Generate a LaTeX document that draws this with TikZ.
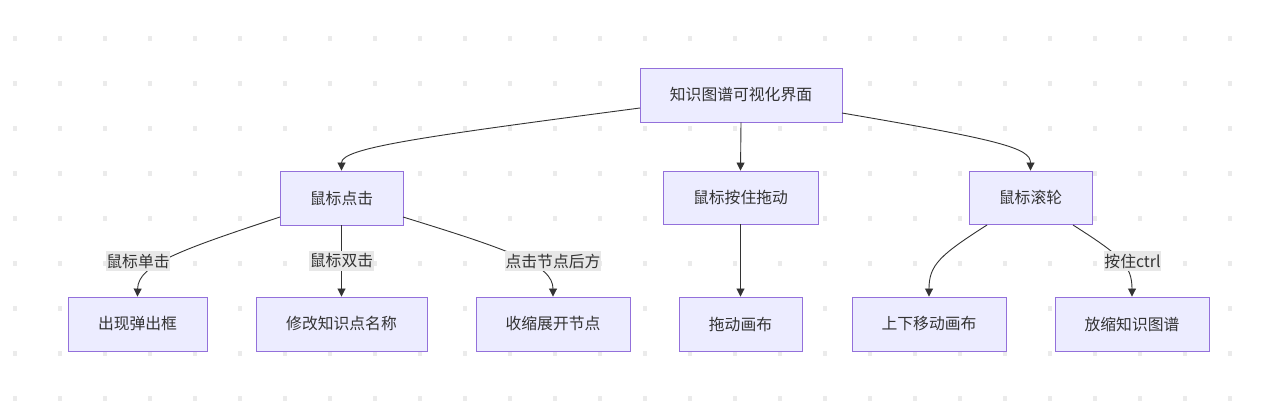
\documentclass[tikz,border=0pt]{standalone}
\usepackage{fontspec}
\setmainfont{Noto Sans CJK SC}
\usetikzlibrary{arrows.meta}
\definecolor{nodefill}{HTML}{ECECFF}
\definecolor{nodeline}{HTML}{9370DB}
\definecolor{edgecol}{HTML}{333333}
\definecolor{lblbg}{HTML}{E8E8E8}
\definecolor{dotcol}{HTML}{EBEBEB}
\tikzset{
  box/.style={draw=nodeline, fill=nodefill, line width=0.9pt, inner sep=0pt, text=edgecol, font=\fontsize{15.8}{18}\selectfont},
  lbl/.style={fill=lblbg, inner xsep=0.5pt, inner ysep=2.5pt, text=edgecol, font=\fontsize{15.8}{18}\selectfont},
  edge/.style={draw=edgecol, line width=0.9pt, -{Triangle[length=8pt,width=8pt]}},
}
\begin{document}
\begin{tikzpicture}[x=1pt,y=-1pt]
\useasboundingbox (0,0) rectangle (1267,406);
\fill[white] (0,0) rectangle (1267,406);
% dot grid
\foreach \i in {0,...,27} {
  \foreach \j in {0,...,8} {
    \fill[dotcol] ({15+45*\i-2.2},{38.5+45*\j-2.2}) rectangle ++(4.4,4.4);
  }
}
% nodes
\node[box, minimum width=202pt, minimum height=54pt] (root) at (741,95) {知识图谱可视化界面};
\node[box, minimum width=123pt, minimum height=54pt] (click) at (341.5,198) {鼠标点击};
\node[box, minimum width=155pt, minimum height=53pt] (drag) at (740.5,197.5) {鼠标按住拖动};
\node[box, minimum width=123pt, minimum height=53pt] (wheel) at (1030.5,197.5) {鼠标滚轮};
\node[box, minimum width=139pt, minimum height=54pt] (popup) at (137.5,324) {出现弹出框};
\node[box, minimum width=171pt, minimum height=54pt] (rename) at (341.5,324) {修改知识点名称};
\node[box, minimum width=154pt, minimum height=54pt] (fold) at (553,324) {收缩展开节点};
\node[box, minimum width=123pt, minimum height=54pt] (canvas) at (740.5,324) {拖动画布};
\node[box, minimum width=154pt, minimum height=54pt] (updown) at (929,324) {上下移动画布};
\node[box, minimum width=154pt, minimum height=54pt] (zoom) at (1132,324) {放缩知识图谱};
% anchor coordinates
\coordinate (rL) at (640,108);
\coordinate (rR) at (842,113);
\coordinate (cL) at (280,217);
\coordinate (cR) at (403,217);
\coordinate (wL) at (987,225);
\coordinate (wR) at (1073,225);
% edges
\draw[edge] (rL) .. controls (420,137) and (341.5,148) .. (click.north);
\draw[edge] (root.south) -- (drag.north);
\draw[edge] (rR) .. controls (1000,140) and (1030.5,148) .. (wheel.north);
\draw[edge] (cL) .. controls (180,250) and (138,265) .. (popup.north);
\draw[edge] (click.south) -- (rename.north);
\draw[edge] (cR) .. controls (510,250) and (553,265) .. (fold.north);
\draw[edge] (drag.south) -- (canvas.north);
\draw[edge] (wL) .. controls (940,255) and (929,265) .. (updown.north);
\draw[edge] (wR) .. controls (1120,255) and (1132,265) .. (zoom.north);
% edge labels
\node[lbl] (l1) at (138,261) {鼠标单击};
\node[lbl] (l2) at (341.5,261) {鼠标双击};
\node[lbl] (l3) at (553,261) {点击节点后方};
\node[lbl] (l4) at (1132.5,261) {按住ctrl};
\end{tikzpicture}
\end{document}
